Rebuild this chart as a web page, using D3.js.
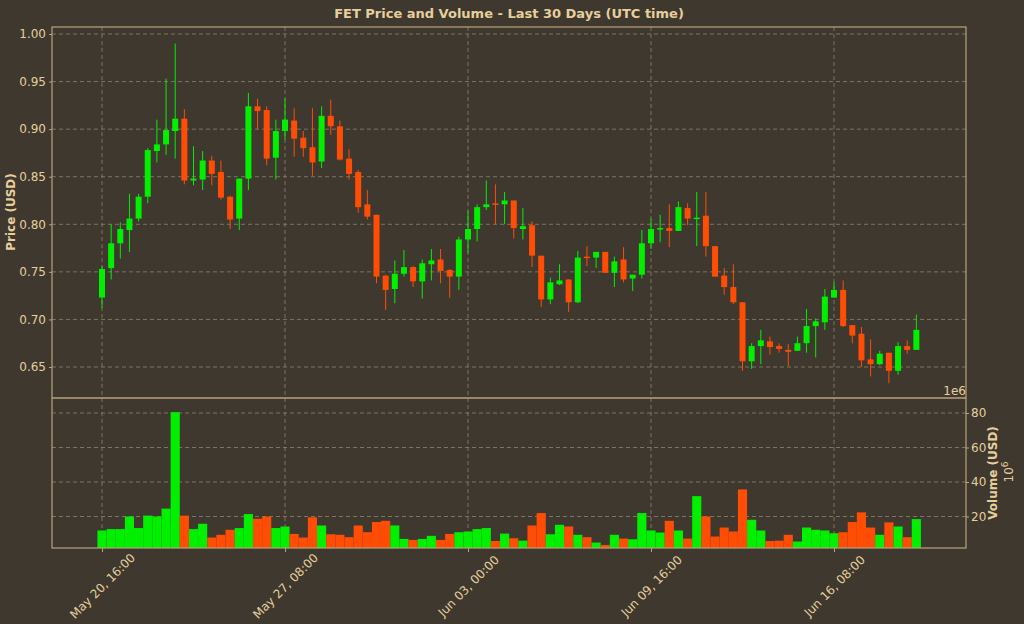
<!DOCTYPE html>
<html><head><meta charset="utf-8">
<script src="https://cdn.jsdelivr.net/npm/d3@7"></script>
<style>body{margin:0;background:#3e382e;}svg{display:block;font-family:"DejaVu Sans",sans-serif;}</style>
</head><body><svg id="c" width="1024" height="624"></svg>
<script>
const startTime = "2025-05-20T16:00:00Z";
const opens  = [.723,.754,.780,.794,.806,.829,.877,.884,.898,.911,.846,.847,.867,.855,.829,.806,.848,.924,.920,.870,.898,.909,.891,.881,.866,.914,.903,.869,.855,.821,.810,.746,.732,.748,.755,.740,.758,.763,.752,.745,.784,.795,.818,.822,.821,.825,.795,.799,.767,.721,.737,.742,.718,.766,.765,.771,.749,.763,.743,.747,.780,.795,.796,.793,.817,.806,.809,.777,.746,.734,.718,.656,.672,.677,.672,.668,.667,.675,.693,.697,.723,.731,.694,.685,.658,.653,.665,.646,.672,.668];
const closes = [.753,.780,.795,.806,.829,.878,.884,.899,.911,.846,.848,.867,.853,.828,.805,.848,.924,.919,.869,.898,.910,.890,.880,.865,.914,.903,.868,.853,.818,.808,.745,.731,.748,.755,.740,.759,.762,.751,.745,.784,.795,.818,.821,.821,.825,.796,.798,.767,.721,.739,.741,.718,.765,.765,.771,.749,.761,.742,.747,.780,.795,.796,.793,.818,.806,.807,.777,.745,.734,.718,.656,.672,.678,.671,.669,.666,.675,.693,.698,.724,.731,.693,.683,.657,.653,.664,.646,.672,.668,.689];
const highs  = [.756,.800,.802,.832,.832,.880,.910,.953,.990,.921,.882,.877,.872,.867,.830,.848,.938,.932,.924,.910,.932,.922,.898,.922,.924,.931,.909,.879,.857,.836,.810,.747,.762,.773,.756,.763,.774,.774,.753,.787,.814,.821,.846,.842,.834,.825,.817,.803,.767,.744,.758,.742,.772,.777,.771,.771,.766,.776,.747,.794,.806,.810,.821,.824,.822,.834,.834,.777,.754,.758,.718,.675,.689,.682,.675,.674,.682,.711,.701,.732,.739,.741,.694,.692,.679,.667,.665,.676,.678,.705];
const lows   = [.712,.742,.764,.771,.803,.822,.865,.873,.869,.842,.841,.836,.841,.826,.795,.794,.836,.900,.862,.847,.889,.871,.871,.851,.859,.894,.867,.847,.812,.805,.738,.710,.717,.745,.734,.722,.741,.738,.723,.731,.770,.782,.815,.800,.800,.785,.784,.755,.713,.716,.736,.708,.717,.756,.754,.749,.734,.739,.730,.743,.774,.781,.776,.793,.799,.777,.766,.745,.726,.716,.646,.648,.653,.663,.665,.651,.667,.665,.660,.689,.723,.692,.675,.650,.640,.652,.633,.642,.664,.668];
const volumes= [11.9,12.7,12.7,20,13.3,20.5,20,24.6,80.5,20.5,12.7,15.8,7.8,9.4,12.3,13.3,21.4,18.7,20,13.3,14.2,9.9,7.8,19.5,14.8,9.7,9.4,8,14.8,10.9,16.8,17.5,14.8,7,6.4,7,8.8,6.4,9.9,10.9,11.3,12.7,13.3,5.8,10.1,7.4,6,14.8,22,9.7,15.2,14.2,9.4,8,4.9,3.5,9.4,7.2,6.8,22,11.9,10.7,17.5,11.9,7.2,31.8,20,8.4,13.6,11.3,35.7,18.1,11.9,5.8,6,9.4,5.5,13.6,12.3,11.9,10.3,10.9,16.8,22.4,13.6,9.4,16.6,14.2,8,18.5];
const priceTicks = [0.65,0.70,0.75,0.80,0.85,0.90,0.95,1.00];
const volTicks = [20,40,60,80];
const xTicks = ["2025-05-20T16:00:00Z","2025-05-27T08:00:00Z","2025-06-03T00:00:00Z","2025-06-09T16:00:00Z","2025-06-16T08:00:00Z"];

const C = {bg:"#3e382e", fg:"#e6cf9c", frame:"#b9a47c", grid:"#8f846c", up:"#00f000", dn:"#ff4d06"};
const svg = d3.select("#c");
svg.append("rect").attr("width",1024).attr("height",624).attr("fill",C.bg);
const L=52,R=966,T=27,M=398,B=548;
const t0 = new Date(startTime).getTime();
const times = opens.map((_,i)=>new Date(t0 + i*8*3600e3));
const x = d3.scaleUtc().domain([new Date(xTicks[0]), new Date(xTicks[4])]).range([102,834]);
const step = x(times[1]) - x(times[0]);
const yP = d3.scaleLinear().domain([0.65,1.00]).range([367,34]);
const yV = d3.scaleLinear().domain([0,80]).range([551,413]);

const defs = svg.append("defs");
defs.append("clipPath").attr("id","cp").append("rect").attr("x",L).attr("y",T).attr("width",R-L).attr("height",M-T);
defs.append("clipPath").attr("id","cv").append("rect").attr("x",L).attr("y",M).attr("width",R-L).attr("height",B-M);

const g = svg.append("g").attr("stroke",C.grid).attr("stroke-dasharray","4,3").attr("stroke-width",0.8);
xTicks.forEach(d=>{const xx=x(new Date(d));g.append("line").attr("x1",xx).attr("x2",xx).attr("y1",T).attr("y2",B);});
priceTicks.forEach(p=>g.append("line").attr("x1",L).attr("x2",R).attr("y1",yP(p)).attr("y2",yP(p)));
volTicks.forEach(v=>g.append("line").attr("x1",L).attr("x2",R).attr("y1",yV(v)).attr("y2",yV(v)));

const cg = svg.append("g").attr("clip-path","url(#cp)");
opens.forEach((o,i)=>{
  const c=closes[i], col = c>=o?C.up:C.dn, xx=x(times[i]);
  cg.append("line").attr("x1",xx).attr("x2",xx).attr("y1",yP(highs[i])).attr("y2",yP(lows[i])).attr("stroke",col).attr("stroke-width",1);
  const y1=yP(Math.max(o,c)), y2=yP(Math.min(o,c));
  cg.append("rect").attr("x",xx-3).attr("width",6).attr("y",y1).attr("height",Math.max(1.5,y2-y1)).attr("fill",col);
});
const vg = svg.append("g").attr("clip-path","url(#cv)");
volumes.forEach((v,i)=>{
  const col = closes[i]>=opens[i]?C.up:C.dn, xx=x(times[i]);
  vg.append("rect").attr("x",xx-step/2).attr("width",step).attr("y",yV(v)).attr("height",B-yV(v)).attr("fill",col);
});
svg.append("rect").attr("x",L).attr("y",T).attr("width",R-L).attr("height",B-T).attr("fill","none").attr("stroke",C.frame).attr("stroke-width",1.2);
svg.append("line").attr("x1",L).attr("x2",R).attr("y1",M).attr("y2",M).attr("stroke",C.frame).attr("stroke-width",1.5);

const ay = svg.append("g").attr("transform",`translate(${L},0)`).call(d3.axisLeft(yP).tickValues(priceTicks).tickFormat(d3.format(".2f")).tickSize(3).tickPadding(3));
const av = svg.append("g").attr("transform",`translate(${R},0)`).call(d3.axisRight(yV).tickValues(volTicks).tickSize(3).tickPadding(2));
const ax = svg.append("g").attr("transform",`translate(0,${B})`).call(d3.axisBottom(x).tickValues(xTicks.map(d=>new Date(d))).tickFormat(d3.utcFormat("%b %d, %H:%M")).tickSize(4));
[ay,av,ax].forEach(a=>{a.select(".domain").remove();a.selectAll("line").attr("stroke",C.frame);a.selectAll("text").attr("fill",C.fg).style("font-size","12px").style("font-family","DejaVu Sans");});
ax.selectAll("text").attr("text-anchor","middle").attr("y",0).attr("dy","0.35em").attr("transform","translate(0,38) rotate(-45)");

svg.append("text").attr("x",(L+R)/2).attr("y",18).attr("text-anchor","middle").attr("fill",C.fg).style("font-size","13px").style("font-weight","bold").text("FET Price and Volume - Last 30 Days (UTC time)");
svg.append("text").attr("transform","translate(15,212) rotate(-90)").attr("text-anchor","middle").attr("fill",C.fg).style("font-size","12px").style("font-weight","bold").text("Price (USD)");
svg.append("text").attr("transform","translate(997,473) rotate(-90)").attr("text-anchor","middle").attr("fill",C.fg).style("font-size","12px").style("font-weight","bold").text("Volume (USD)");
svg.append("text").attr("transform","translate(1013,472) rotate(-90)").attr("text-anchor","middle").attr("fill",C.fg).style("font-size","12px").html("10<tspan dy='-5' font-size='9'>6</tspan>");
svg.append("text").attr("x",R).attr("y",395).attr("text-anchor","end").attr("fill",C.fg).style("font-size","12px").text("1e6");
</script></body></html>
